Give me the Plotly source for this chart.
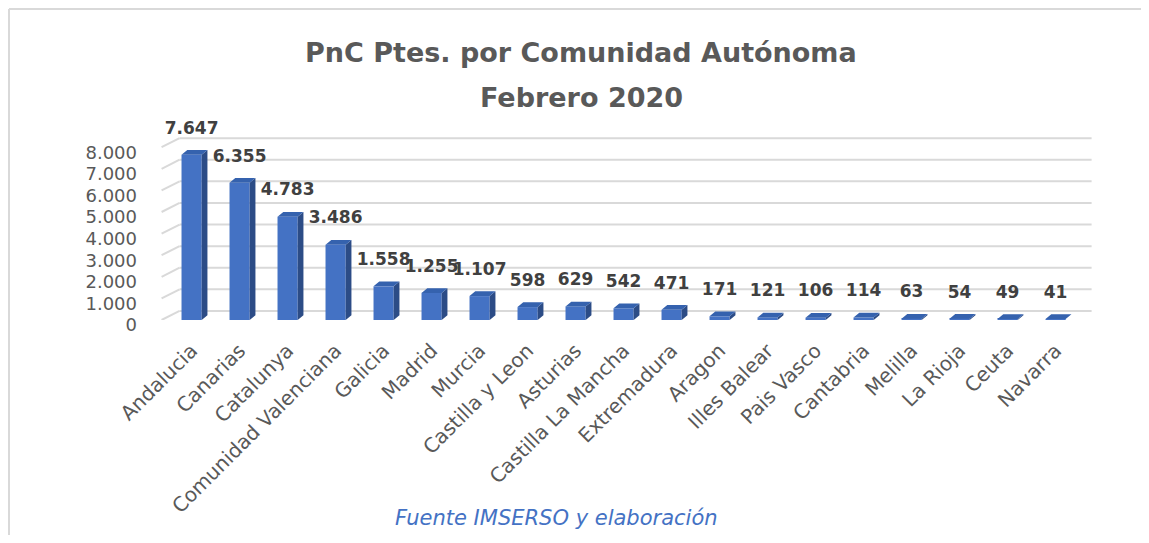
import plotly.graph_objects as go

categories = ["Andalucia", "Canarias", "Catalunya", "Comunidad Valenciana", "Galicia",
              "Madrid", "Murcia", "Castilla y Leon", "Asturias", "Castilla La Mancha",
              "Extremadura", "Aragon", "Illes Balear", "Pais Vasco", "Cantabria",
              "Melilla", "La Rioja", "Ceuta", "Navarra"]
values = [7647, 6355, 4783, 3486, 1558, 1255, 1107, 598, 629, 542, 471, 171, 121, 106, 114,
          63, 54, 49, 41]
y_ticks = [0, 1000, 2000, 3000, 4000, 5000, 6000, 7000, 8000]

OFF = 8  # page body margin
W, H = 1149 - 2 * OFF, 543 - 2 * OFF
L, T = 158 - OFF, 112 - OFF
PW, PH = 936, 208
R, B = W - L - PW, H - T - PH
X_RANGE = [-0.7, 18.8]
Y_RANGE = [0, 9630]

FRONT = "#4472C4"
SIDE = "#2C4C86"
TOP = "#3562AE"
GRID = "#D9D9D9"
FONT = "DejaVu Sans"

n = len(categories)
xs = list(range(n))
bw = 0.42          # front face width (category units)
ddx = 0.12         # depth offset x (category units)
ddy = 220          # depth offset y (value units)
back = 420         # back wall offset for gridlines (value units)
lab = 1180         # data label lift (value units)


def fmt(v):
    return f"{v:,}".replace(",", ".")


fig = go.Figure()

# gridlines on back wall + floor diagonals (below traces)
for t in y_ticks:
    fig.add_shape(type="line", xref="x", yref="y", x0=-0.625, y0=t, x1=-0.25, y1=t + back,
                  line=dict(color=GRID, width=2), layer="below")
    fig.add_shape(type="line", xref="x", yref="y", x0=-0.25, y0=t + back, x1=18.75,
                  y1=t + back, line=dict(color=GRID, width=2), layer="below")

# front faces
fig.add_trace(go.Bar(x=xs, y=values, width=bw, marker=dict(color=FRONT, line=dict(width=0)),
                     hoverinfo="skip"))

# side faces
sx, sy = [], []
for i, v in zip(xs, values):
    r = i + bw / 2
    sx += [r, r + ddx, r + ddx, r, r, None]
    sy += [0, ddy, v + ddy, v, 0, None]
fig.add_trace(go.Scatter(x=sx, y=sy, mode="lines", fill="toself", fillcolor=SIDE,
                         line=dict(width=0, color=SIDE), hoverinfo="skip"))

# top faces
tx, ty = [], []
for i, v in zip(xs, values):
    l, r = i - bw / 2, i + bw / 2
    tx += [l, r, r + ddx, l + ddx, l, None]
    ty += [v, v, v + ddy, v + ddy, v, None]
fig.add_trace(go.Scatter(x=tx, y=ty, mode="lines", fill="toself", fillcolor=TOP,
                         line=dict(width=0, color=TOP), hoverinfo="skip"))

# data labels
fig.add_trace(go.Scatter(x=xs, y=[v + lab for v in values], mode="text",
                         text=[fmt(v) for v in values], textposition="middle center",
                         textfont=dict(family=FONT, size=17, color="#404040", weight="bold"),
                         cliponaxis=False, hoverinfo="skip"))


def py(s):
    return (H - B - (s - OFF)) / PH


def pxp(s):
    return ((s - OFF) - L) / PW


fig.add_annotation(x=pxp(581), y=py(53), xref="paper", yref="paper", showarrow=False,
                   text="<b>PnC Ptes. por Comunidad Autónoma</b>", xanchor="center",
                   yanchor="middle", font=dict(family=FONT, size=27, color="#595959"))
fig.add_annotation(x=pxp(581), y=py(97), xref="paper", yref="paper", showarrow=False,
                   text="<b>Febrero 2020</b>", xanchor="center", yanchor="middle",
                   font=dict(family=FONT, size=27, color="#595959"))
fig.add_annotation(x=pxp(556), y=py(518), xref="paper", yref="paper", showarrow=False,
                   text="<i>Fuente IMSERSO y elaboración</i>", xanchor="center",
                   yanchor="middle", font=dict(family=FONT, size=21, color="#4472C4"))

# chart border (top and left)
fig.add_shape(type="line", xref="paper", yref="paper", x0=pxp(OFF + 1), x1=pxp(1200),
              y0=py(OFF + 1), y1=py(OFF + 1), line=dict(color=GRID, width=2))
fig.add_shape(type="line", xref="paper", yref="paper", x0=pxp(OFF + 1), x1=pxp(OFF + 1),
              y0=py(OFF + 1), y1=py(600), line=dict(color=GRID, width=2))

fig.update_layout(
    width=W, height=H, margin=dict(l=L, r=R, t=T, b=B, autoexpand=False),
    paper_bgcolor="white", plot_bgcolor="white", showlegend=False,
    xaxis=dict(range=X_RANGE, tickmode="array", tickvals=xs, ticktext=categories,
               tickangle=-45, showgrid=False, zeroline=False, showline=False,
               ticks="", ticklabelstandoff=14,
               tickfont=dict(family=FONT, size=20, color="#595959")),
    yaxis=dict(range=Y_RANGE, tickmode="array", tickvals=y_ticks,
               ticktext=[fmt(t) for t in y_ticks], showgrid=False, zeroline=False,
               showline=False, ticks="", ticklabelstandoff=20, ticklabelshift=5,
               tickfont=dict(family=FONT, size=18, color="#595959")),
)

fig.write_html("out.html", config={"displayModeBar": False})
